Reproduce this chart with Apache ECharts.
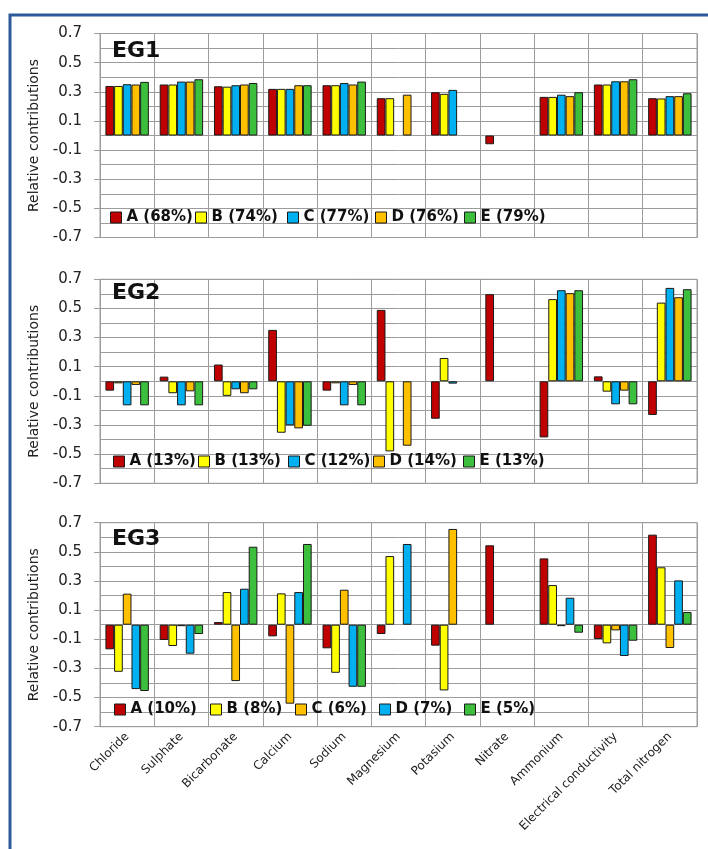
<!DOCTYPE html>
<html>
<head>
<meta charset="utf-8">
<script src="https://cdn.jsdelivr.net/npm/echarts@6/dist/echarts.min.js"></script>
<style>
  html, body { margin: 0; padding: 0; background: #ffffff; }
  #chart { width: 708px; height: 849px; }
</style>
</head>
<body>
<div id="chart"></div>
<script>
// Water-quality parameters on the shared category axis
const categories = ['Chloride', 'Sulphate', 'Bicarbonate', 'Calcium', 'Sodium', 'Magnesium',
  'Potasium', 'Nitrate', 'Ammonium', 'Electrical conductivity', 'Total nitrogen'];

// Labelled y-axis values (gridlines every 0.1, labels every 0.2)
const yTickLabels = [-0.7, -0.5, -0.3, -0.1, 0.1, 0.3, 0.5, 0.7];

// EG1
const eg1Title = 'EG1';
const eg1Names = ['A (68%)', 'B (74%)', 'C (77%)', 'D (76%)', 'E (79%)'];
const eg1A = [0.34, 0.35, 0.338, 0.32, 0.345, 0.256, 0.297, -0.06, 0.265, 0.35, 0.256];
const eg1B = [0.34, 0.35, 0.335, 0.32, 0.345, 0.256, 0.286, null, 0.265, 0.35, 0.254];
const eg1C = [0.352, 0.37, 0.345, 0.32, 0.36, null, 0.313, null, 0.28, 0.372, 0.27];
const eg1D = [0.35, 0.37, 0.35, 0.345, 0.35, 0.28, null, null, 0.27, 0.372, 0.27];
const eg1E = [0.368, 0.386, 0.36, 0.345, 0.37, null, null, null, 0.297, 0.386, 0.29];

// EG2
const eg2Title = 'EG2';
const eg2Names = ['A (13%)', 'B (13%)', 'C (12%)', 'D (14%)', 'E (13%)'];
const eg2A = [-0.064, 0.032, 0.115, 0.353, -0.064, 0.49, -0.257, 0.598, -0.385, 0.034, -0.231];
const eg2B = [-0.014, -0.082, -0.10, -0.353, -0.014, -0.481, 0.16, null, 0.564, -0.071, 0.54];
const eg2C = [-0.165, -0.165, -0.055, -0.302, -0.165, null, -0.016, null, 0.625, -0.158, 0.641];
const eg2D = [-0.025, -0.069, -0.082, -0.323, -0.025, -0.442, null, null, 0.605, -0.064, 0.577];
const eg2E = [-0.165, -0.165, -0.055, -0.305, -0.165, null, null, null, 0.625, -0.158, 0.632];

// EG3
const eg3Title = 'EG3';
const eg3Names = ['A (10%)', 'B (8%)', 'C (6%)', 'D (7%)', 'E (5%)'];
const eg3A = [-0.169, -0.105, 0.018, -0.08, -0.162, -0.064, -0.144, 0.545, 0.455, -0.098, 0.618];
const eg3B = [-0.323, -0.146, 0.224, 0.215, -0.33, 0.471, -0.451, null, 0.272, -0.128, 0.394];
const eg3C = [0.213, -0.01, -0.387, -0.542, 0.24, null, 0.657, null, -0.01, -0.039, -0.16];
const eg3D = [-0.442, -0.199, 0.247, 0.224, -0.426, 0.554, null, null, 0.185, -0.215, 0.304];
const eg3E = [-0.455, -0.064, 0.535, 0.554, -0.426, null, null, null, -0.055, -0.11, 0.087];

const RED = '#C00000', YELLOW = '#FFFF00', BLUE = '#00B0F0', ORANGE = '#FFC000', GREEN = '#3CBF3C';

const panels = [
  { title: eg1Title, names: eg1Names, values: [eg1A, eg1B, eg1C, eg1D, eg1E],
    colors: [RED, YELLOW, BLUE, ORANGE, GREEN],
    top: 33.5, titleTop: 40, legendTop: 210, legendLeft: [110, 195, 287, 375, 464] },
  { title: eg2Title, names: eg2Names, values: [eg2A, eg2B, eg2C, eg2D, eg2E],
    colors: [RED, YELLOW, BLUE, ORANGE, GREEN],
    top: 279.3, titleTop: 282, legendTop: 454, legendLeft: [113, 198, 288, 373, 463] },
  { title: eg3Title, names: eg3Names, values: [eg3A, eg3B, eg3C, eg3D, eg3E],
    colors: [RED, YELLOW, ORANGE, BLUE, GREEN],
    top: 522.7, titleTop: 528, legendTop: 702, legendLeft: [114, 210, 295, 379, 464] }
];

const FONT = 'DejaVu Sans';
const GRID_COLOR = '#9c9c9c';
const PLOT_LEFT = 100, PLOT_RIGHT = 11, PLOT_H = 204;

const grid = [], xAxis = [], yAxis = [], series = [], legend = [], title = [];
const tickAxes = [];

panels.forEach((p, i) => {
  grid.push({
    left: PLOT_LEFT, right: PLOT_RIGHT, top: p.top, height: PLOT_H,
    show: true, borderColor: GRID_COLOR, borderWidth: 1, containLabel: false
  });
  xAxis.push({
    type: 'category', gridIndex: i, data: categories, boundaryGap: true,
    axisLine: { show: true, onZero: false, lineStyle: { color: GRID_COLOR, width: 1 } },
    axisTick: { show: false },
    splitLine: { show: true, interval: 0, lineStyle: { color: GRID_COLOR, width: 1 } },
    axisLabel: i === 2 ? {
      show: true, interval: 0, rotate: 45, margin: 8,
      fontFamily: FONT, fontSize: 12, color: '#222'
    } : { show: false }
  });
  // Value axis: gridline every 0.1, labels on odd tenths
  yAxis.push({
    type: 'value', gridIndex: i, min: -0.7, max: 0.7, interval: 0.1,
    name: 'Relative contributions', nameLocation: 'middle', nameGap: 45,
    nameTextStyle: { fontFamily: FONT, fontSize: 14, color: '#222' },
    axisLine: { show: true, lineStyle: { color: GRID_COLOR, width: 1 } },
    axisTick: { show: false },
    splitLine: { show: true, lineStyle: { color: GRID_COLOR, width: 1 } },
    axisLabel: {
      customValues: yTickLabels, margin: 18,
      fontFamily: FONT, fontSize: 15, color: '#222',
      formatter: v => Number(v).toFixed(1)
    }
  });
  // Overlay axis carrying only the outward tick marks beside each label
  tickAxes.push({
    type: 'value', gridIndex: i, min: -0.7, max: 0.7, interval: 0.1, position: 'left',
    axisLine: { show: false },
    axisTick: { show: true, customValues: yTickLabels, length: 6, lineStyle: { color: GRID_COLOR } },
    splitLine: { show: false },
    axisLabel: { show: false }
  });
  title.push({
    text: p.title, left: 112, top: p.titleTop, padding: 0,
    textStyle: { fontFamily: FONT, fontSize: 22, fontWeight: 'bold', color: '#111' }
  });
  p.names.forEach((name, k) => {
    series.push({
      type: 'bar', name: name, xAxisIndex: i, yAxisIndex: i,
      data: p.values[k].map(v => (v === null ? '-' : v)),
      barGap: '0%', barCategoryGap: '20%',
      itemStyle: { color: p.colors[k], borderColor: '#1a1a1a', borderWidth: 1 },
      emphasis: { disabled: true },
      animation: false
    });
    legend.push({
      data: [name], left: p.legendLeft[k], top: p.legendTop, padding: 0,
      icon: 'rect', itemWidth: 11, itemHeight: 11,
      itemStyle: { borderColor: '#1a1a1a', borderWidth: 1 },
      textStyle: { fontFamily: FONT, fontSize: 15, fontWeight: 'bold', color: '#111' },
      selectedMode: false
    });
  });
});

const chart = echarts.init(document.getElementById('chart'), null, { renderer: 'canvas' });
chart.setOption({
  backgroundColor: '#ffffff',
  animation: false,
  title, grid, xAxis,
  yAxis: yAxis.concat(tickAxes),
  series, legend,
  graphic: [{
    type: 'rect', left: 7.5, top: 12.5, silent: true, z: 100,
    shape: { width: 760, height: 900 },
    style: { fill: 'none', stroke: '#2D5A9A', lineWidth: 3 }
  }]
});
</script>
</body>
</html>
